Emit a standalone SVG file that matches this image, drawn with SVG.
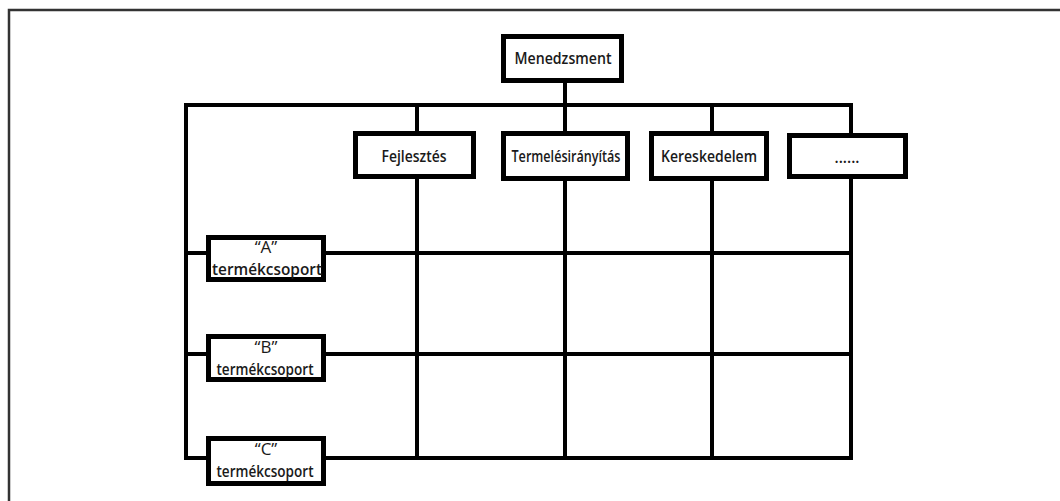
<svg xmlns="http://www.w3.org/2000/svg" width="1060" height="501" viewBox="0 0 1060 501">
<style>
.box{fill:#fff;stroke:#000;stroke-width:5}
.ln{fill:none;stroke:#000;stroke-width:4}
.t{font-family:"Open Sans","Liberation Sans",sans-serif;font-weight:600;font-size:17px;fill:#1a1a1a;text-anchor:middle}
.q{font-weight:400}
</style>
<rect width="1060" height="501" fill="#fff"/>
<polyline points="9,501 9,10 1060,10" fill="none" stroke="#333" stroke-width="2.5"/>
<g id="connectors">
<line class="ln" x1="565" y1="81" x2="565" y2="105"/>
<polyline class="ln" points="186,458 186,105 851,105 851,133"/>
<line class="ln" x1="417" y1="105" x2="417" y2="131"/>
<line class="ln" x1="565" y1="105" x2="565" y2="131"/>
<line class="ln" x1="712" y1="105" x2="712" y2="131"/>
<line class="ln" x1="417" y1="178" x2="417" y2="458"/>
<line class="ln" x1="565" y1="180" x2="565" y2="458"/>
<line class="ln" x1="712" y1="180" x2="712" y2="458"/>
<line class="ln" x1="851" y1="178" x2="851" y2="460"/>
<line class="ln" x1="186" y1="253" x2="206" y2="253"/>
<line class="ln" x1="326" y1="253" x2="851" y2="253"/>
<line class="ln" x1="186" y1="354" x2="206" y2="354"/>
<line class="ln" x1="326" y1="354" x2="851" y2="354"/>
<line class="ln" x1="184" y1="458" x2="206" y2="458"/>
<line class="ln" x1="326" y1="458" x2="853" y2="458"/>
</g>
<g id="menedzsment">
<rect class="box" x="503.5" y="36.5" width="118" height="44"/>
<text class="t" x="563" y="64" textLength="97" lengthAdjust="spacingAndGlyphs">Menedzsment</text>
</g>
<g id="fejlesztes">
<rect class="box" x="355.5" y="133.5" width="118" height="43"/>
<text class="t" x="414" y="162" textLength="65" lengthAdjust="spacingAndGlyphs">Fejlesztés</text>
</g>
<g id="termelesiranyitas">
<rect class="box" x="503.5" y="133.5" width="124" height="45"/>
<text class="t" x="566" y="162" textLength="109" lengthAdjust="spacingAndGlyphs">Termelésirányítás</text>
</g>
<g id="kereskedelem">
<rect class="box" x="651.5" y="133.5" width="115" height="45"/>
<text class="t" x="709" y="162" textLength="96" lengthAdjust="spacingAndGlyphs">Kereskedelem</text>
</g>
<g id="egyeb">
<rect class="box" x="789.5" y="135.5" width="116" height="41"/>
<text class="t" x="847" y="163" textLength="25" lengthAdjust="spacingAndGlyphs">......</text>
</g>
<g id="termekcsoport-a">
<rect class="box" x="208.5" y="237.5" width="115" height="42"/>
<text class="t q" x="266" y="253">“A”</text>
<text class="t" x="267" y="275" textLength="110" lengthAdjust="spacingAndGlyphs">termékcsoport</text>
</g>
<g id="termekcsoport-b">
<rect class="box" x="208.5" y="336.5" width="115" height="43"/>
<text class="t q" x="266" y="353">“B”</text>
<text class="t" x="265" y="375" textLength="97" lengthAdjust="spacingAndGlyphs">termékcsoport</text>
</g>
<g id="termekcsoport-c">
<rect class="box" x="208.5" y="438.5" width="115" height="45"/>
<text class="t q" x="266" y="455">“C”</text>
<text class="t" x="265" y="477" textLength="97" lengthAdjust="spacingAndGlyphs">termékcsoport</text>
</g>
</svg>
